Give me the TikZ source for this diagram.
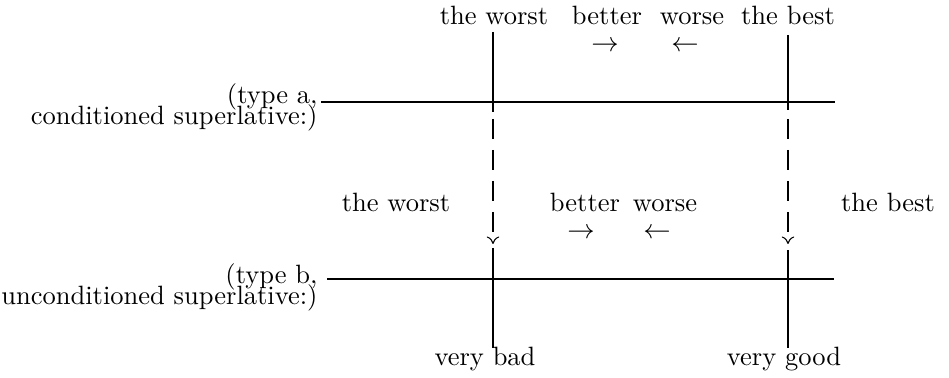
\documentclass[tikz,border=0pt]{standalone}
\usetikzlibrary{arrows.meta}
\begin{document}
\begin{tikzpicture}[x=0.4pt,y=-0.4pt,
  txt/.style={font=\fontsize{10.6}{12.7}\selectfont, inner sep=0pt},
  lbl/.style={txt, anchor=base},
  side/.style={txt, anchor=base east, align=right},
  arr/.style={txt, anchor=base},
  solidpart/.style={line width=0.42pt},
  dashpart/.style={line width=0.42pt, dash pattern=on 8pt off 4.4pt, -{To[length=3pt,width=5pt]}}]
\useasboundingbox (0,0) rectangle (949,378);

% top labels
\node[lbl] (tw) at (494,25) {the worst};
\node[lbl] (tbet) at (607,25) {better};
\node[lbl] (twor) at (692,25) {worse};
\node[lbl] (tb) at (788,25) {the best};
\node[arr] (ta1) at (605,52) {$\rightarrow$};
\node[arr] (ta2) at (685,52) {$\leftarrow$};

% middle labels
\node[lbl] (mw) at (396,212) {the worst};
\node[lbl] (mbet) at (585,212) {better};
\node[lbl] (mwor) at (665,212) {worse};
\node[lbl] (mb) at (888,212) {the best};
\node[arr] (ma1) at (581,239) {$\rightarrow$};
\node[arr] (ma2) at (657,239) {$\leftarrow$};

% side labels
\node[side] (sa) at (318,125) {(type a,\\[-4.3pt]conditioned superlative:)};
\node[side] (sb) at (318,305) {(type b,\\[-4.3pt]unconditioned superlative:)};

% bottom labels
\node[lbl] (vb) at (485,366) {very bad};
\node[lbl] (vg) at (784,366) {very good};

% coordinates
\coordinate (a1) at (321,102);
\coordinate (a2) at (835,102);
\coordinate (b1) at (327,279);
\coordinate (b2) at (834,279);

\coordinate (Ltop) at (493,32);
\coordinate (Lmid) at (493,112);
\coordinate (Ldash) at (493,119);
\coordinate (Ltip) at (493,244);
\coordinate (Lb1) at (493,248);
\coordinate (Lb2) at (493,348);

\coordinate (Rtop) at (788,35);
\coordinate (Rmid) at (788,110);
\coordinate (Rdash) at (788,119);
\coordinate (Rtip) at (788,244);
\coordinate (Rb1) at (788,250);
\coordinate (Rb2) at (788,348);

% horizontal lines
\draw[solidpart] (a1) -- (a2);
\draw[solidpart] (b1) -- (b2);

% verticals
\draw[solidpart] (Ltop) -- (Lmid);
\draw[dashpart] (Ldash) -- (Ltip);
\draw[solidpart] (Lb1) -- (Lb2);
\draw[solidpart] (Rtop) -- (Rmid);
\draw[dashpart] (Rdash) -- (Rtip);
\draw[solidpart] (Rb1) -- (Rb2);
\end{tikzpicture}
\end{document}
